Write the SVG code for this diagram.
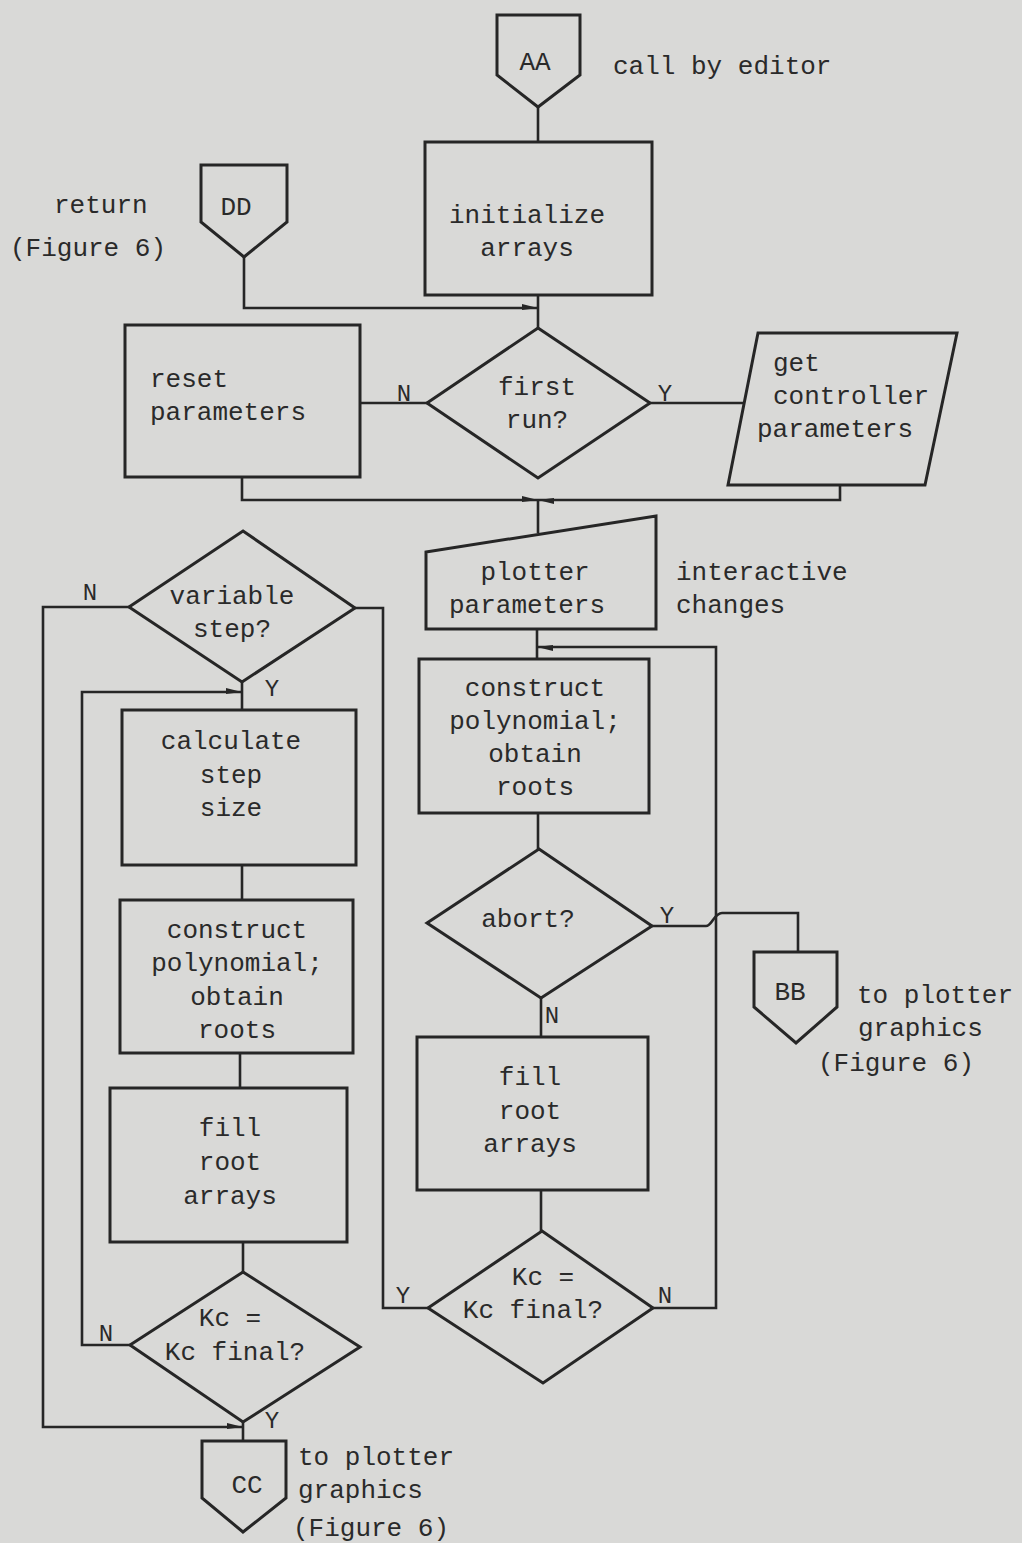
<svg xmlns="http://www.w3.org/2000/svg" width="1022" height="1543" viewBox="0 0 1022 1543">
<style>
.bg{fill:#d9d9d7}
.sh{fill:none;stroke:#262626;stroke-width:3;stroke-linejoin:miter}
.ln{fill:none;stroke:#262626;stroke-width:2.6}
text{font-family:"Liberation Mono","DejaVu Sans Mono",monospace;font-size:26px;fill:#2a2a2a}
.c{text-anchor:middle}
.lb{font-size:24px}
</style>
<defs>
<marker id="arr" markerUnits="userSpaceOnUse" markerWidth="18" markerHeight="10" refX="16" refY="5" orient="auto">
<path d="M0,1 L16,5 L0,7 z" fill="#262626"/>
</marker>
</defs>
<rect class="bg" x="0" y="0" width="1022" height="1543"/>

<g id="connectors">
<path class="ln" d="M538,107 V142"/>
<path class="ln" d="M538,295 V328"/>
<path class="ln" d="M244,257 V308 H538" marker-end="url(#arr)"/>
<path class="ln" d="M427,403 H360"/>
<path class="ln" d="M650,403 H745"/>
<path class="ln" d="M242,477 V500 H538" marker-end="url(#arr)"/>
<path class="ln" d="M840,485 V500 H538" marker-end="url(#arr)"/>
<path class="ln" d="M538,500 V533"/>
<path class="ln" d="M537,629 V659"/>
<path class="ln" d="M538,813 V849"/>
<path class="ln" d="M652,926 H706 C712,926 714,913 722,913 H798 V952"/>
<path class="ln" d="M541,998 V1037"/>
<path class="ln" d="M541,1190 V1231"/>
<path class="ln" d="M428,1308 H383 V608 H355"/>
<path class="ln" d="M653,1308 H716 V647 H537" marker-end="url(#arr)"/>
<path class="ln" d="M242,682 V710"/>
<path class="ln" d="M129,607 H43 V1427 H243" marker-end="url(#arr)"/>
<path class="ln" d="M242,865 V900"/>
<path class="ln" d="M240,1053 V1088"/>
<path class="ln" d="M243,1242 V1272"/>
<path class="ln" d="M130,1345 H82 V692 H242" marker-end="url(#arr)"/>
<path class="ln" d="M243,1422 V1441"/>
<text class="lb c" x="404" y="401">N</text>
<text class="lb c" x="665" y="401">Y</text>
<text class="lb c" x="90" y="600">N</text>
<text class="lb c" x="272" y="696">Y</text>
<text class="lb c" x="667" y="923">Y</text>
<text class="lb c" x="552" y="1023">N</text>
<text class="lb c" x="403" y="1303">Y</text>
<text class="lb c" x="665" y="1303">N</text>
<text class="lb c" x="106" y="1341">N</text>
<text class="lb c" x="272" y="1428">Y</text>
</g>

<g id="AA">
<path class="sh" d="M497,15 H580 V75 L538,107 L497,75 Z"/>
<text class="c" x="535" y="70">AA</text>
<text x="613" y="74">call by editor</text>
</g>

<g id="init">
<rect class="sh" x="425" y="142" width="227" height="153"/>
<text class="c" x="527" y="223">initialize</text>
<text class="c" x="527" y="256">arrays</text>
</g>

<g id="DD">
<path class="sh" d="M201,165 H287 V222 L244,257 L201,222 Z"/>
<text class="c" x="236" y="215">DD</text>
<text x="54" y="213">return</text>
<text x="10" y="256">(Figure 6)</text>
</g>

<g id="firstrun">
<path class="sh" d="M538,328 L650,403 L538,478 L427,403 Z"/>
<text class="c" x="537" y="395">first</text>
<text class="c" x="537" y="428">run?</text>
</g>

<g id="reset">
<rect class="sh" x="125" y="325" width="235" height="152"/>
<text x="150" y="387">reset</text>
<text x="150" y="420">parameters</text>
</g>

<g id="getctrl">
<path class="sh" d="M758,333 H957 L925,485 H728 Z"/>
<text x="773" y="371">get</text>
<text x="773" y="404">controller</text>
<text x="757" y="437">parameters</text>
</g>

<g id="plotter">
<path class="sh" d="M426,552 L656,516 V629 H426 Z"/>
<text class="c" x="535" y="580">plotter</text>
<text class="c" x="527" y="613">parameters</text>
<text x="676" y="580">interactive</text>
<text x="676" y="613">changes</text>
</g>

<g id="construct-r">
<rect class="sh" x="419" y="659" width="230" height="154"/>
<text class="c" x="535" y="696">construct</text>
<text class="c" x="535" y="729">polynomial;</text>
<text class="c" x="535" y="762">obtain</text>
<text class="c" x="535" y="795">roots</text>
</g>

<g id="abort">
<path class="sh" d="M539,849 L652,926 L541,998 L427,923 Z"/>
<text class="c" x="528" y="927">abort?</text>
</g>

<g id="BB">
<path class="sh" d="M754,952 H837 V1007 L796,1043 L754,1007 Z"/>
<text class="c" x="790" y="1000">BB</text>
<text x="857" y="1003">to plotter</text>
<text x="858" y="1036">graphics</text>
<text x="818" y="1071">(Figure 6)</text>
</g>

<g id="fill-r">
<rect class="sh" x="417" y="1037" width="231" height="153"/>
<text class="c" x="530" y="1085">fill</text>
<text class="c" x="530" y="1119">root</text>
<text class="c" x="530" y="1152">arrays</text>
</g>

<g id="kc-r">
<path class="sh" d="M542,1231 L653,1308 L543,1383 L428,1308 Z"/>
<text class="c" x="543" y="1285">Kc =</text>
<text class="c" x="533" y="1318">Kc final?</text>
</g>

<g id="varstep">
<path class="sh" d="M243,531 L355,608 L242,682 L129,607 Z"/>
<text class="c" x="232" y="604">variable</text>
<text class="c" x="232" y="637">step?</text>
</g>

<g id="calc">
<rect class="sh" x="122" y="710" width="234" height="155"/>
<text class="c" x="231" y="749">calculate</text>
<text class="c" x="231" y="783">step</text>
<text class="c" x="231" y="816">size</text>
</g>

<g id="construct-l">
<rect class="sh" x="120" y="900" width="233" height="153"/>
<text class="c" x="237" y="938">construct</text>
<text class="c" x="237" y="971">polynomial;</text>
<text class="c" x="237" y="1005">obtain</text>
<text class="c" x="237" y="1038">roots</text>
</g>

<g id="fill-l">
<rect class="sh" x="110" y="1088" width="237" height="154"/>
<text class="c" x="230" y="1136">fill</text>
<text class="c" x="230" y="1170">root</text>
<text class="c" x="230" y="1204">arrays</text>
</g>

<g id="kc-l">
<path class="sh" d="M243,1272 L360,1347 L243,1422 L130,1345 Z"/>
<text class="c" x="230" y="1326">Kc =</text>
<text class="c" x="235" y="1360">Kc final?</text>
</g>

<g id="CC">
<path class="sh" d="M202,1441 H286 V1498 L243,1532 L202,1498 Z"/>
<text class="c" x="247" y="1493">CC</text>
<text x="298" y="1465">to plotter</text>
<text x="298" y="1498">graphics</text>
<text x="293" y="1536">(Figure 6)</text>
</g>
</svg>
